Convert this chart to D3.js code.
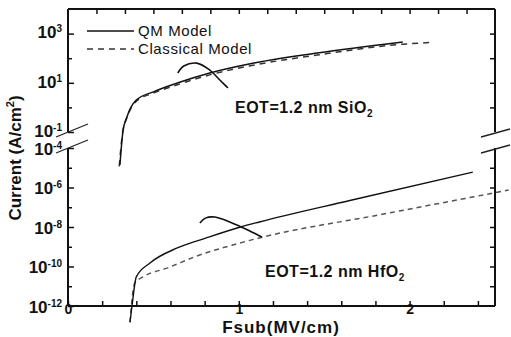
<!DOCTYPE html>
<html>
<head>
<meta charset="utf-8">
<script src="https://cdn.jsdelivr.net/npm/d3@7"></script>
<style>
  body { margin: 0; background: #fff; }
  svg { display: block; font-family: "Liberation Sans", Arial, sans-serif; }
</style>
</head>
<body>
<div id="chart"></div>
<script>
const width = 511;
const height = 337;

// [Fsub (MV/cm), current (A/cm^2)]
const qmSiO2 = [[0.304, 4.6e-3], [0.322, 0.11], [0.345, 0.41], [0.40, 2.0], [0.50, 4.3],
    [0.64, 9.8], [0.83, 25], [1.06, 58], [1.46, 162], [1.96, 457]];
const classicalSiO2 = [[0.30, 4.0e-3], [0.32, 0.10], [0.345, 0.38], [0.40, 1.8], [0.50, 3.8],
    [0.64, 8.3], [0.83, 21], [1.06, 48], [1.46, 135], [1.96, 370], [2.13, 437]];
const qmHfO2 = [[0.363, 1.5e-13], [0.374, 8.9e-13], [0.40, 3.0e-11], [0.48, 1.5e-10],
    [0.64, 8.7e-10], [0.81, 2.8e-9], [1.01, 1.0e-8], [1.12, 1.8e-8], [1.65, 2.2e-7], [2.37, 6.0e-6]];
const classicalHfO2 = [[0.363, 1.5e-13], [0.39, 1.4e-11], [0.44, 3.0e-11], [0.58, 8.3e-11],
    [0.77, 3.8e-10], [0.96, 1.2e-9], [1.12, 2.8e-9], [1.84, 4.4e-8], [2.58, 7.4e-7]];

// curved pointers next to the curves
const arrowSiO2 = [[0.643, 25], [0.678, 48], [0.754, 63], [0.83, 33], [0.889, 13], [0.936, 6.2]];
const arrowHfO2 = [[0.772, 1.6e-8], [0.807, 2.9e-8], [0.86, 3.2e-8], [0.947, 1.8e-8],
    [1.064, 6.3e-9], [1.135, 3.1e-9]];

const xLabels = [0, 1, 2];
const xBottomTicks = d3.range(0, 12).map(k => k * 0.2 + 0.2);
const xTopTicks = d3.range(1, 15).map(k => k / 6);
const topDecades = [-1, 0, 1, 2, 3];
const topLabels = [3, 1, -1];
const bottomDecades = [-12, -11, -10, -9, -8, -7, -6, -5, -4];
const bottomLabels = [-4, -6, -8, -10, -12];

const x = d3.scaleLinear().domain([0, 2.5]).range([68, 495]);
const yTop = d3.scaleLog().domain([1e-1, 1e4]).range([132, 9]);
const yBot = d3.scaleLog().domain([1e-12, 1e-4]).range([306, 148]);

const svg = d3.select("#chart")
    .append("svg")
    .attr("width", width)
    .attr("height", height);

// ticks
function supLabels(g, labeled) {
    g.selectAll(".tick").each(function(d) {
        const e = Math.round(Math.log10(d));
        const tick = d3.select(this);
        const t = tick.select("text");
        if (!labeled.includes(e)) {
            t.remove();
            tick.select("line").attr("x2", 4);
            return;
        }
        t.text("10").attr("font-size", 17).attr("font-weight", "bold").attr("fill", "#111");
        t.append("tspan").attr("dy", "-0.6em").attr("font-size", 10).text(String(e));
    });
}

const leftTop = svg.append("g")
    .attr("transform", `translate(${x(0)},0)`)
    .call(d3.axisLeft(yTop).tickValues(topDecades.map(e => 10 ** e)).tickSize(-6).tickPadding(6));
leftTop.call(supLabels, topLabels);
leftTop.selectAll(".tick text").attr("dy", "0.25em");

const leftBot = svg.append("g")
    .attr("transform", `translate(${x(0)},0)`)
    .call(d3.axisLeft(yBot).tickValues(bottomDecades.map(e => 10 ** e)).tickSize(-6).tickPadding(6));
leftBot.call(supLabels, bottomLabels);
leftBot.selectAll(".tick text").attr("dy", "0.38em");

svg.append("g")
    .attr("transform", `translate(${x(2.5)},0)`)
    .call(d3.axisRight(yTop).tickValues(topDecades.slice(1).map(e => 10 ** e)).tickSize(-5).tickFormat(""));
svg.append("g")
    .attr("transform", `translate(${x(2.5)},0)`)
    .call(d3.axisRight(yBot).tickValues(bottomDecades.slice(1, -1).map(e => 10 ** e)).tickSize(-5).tickFormat(""));

const bottomAxis = svg.append("g")
    .attr("transform", `translate(0,${yBot(1e-12)})`)
    .call(d3.axisBottom(x).tickValues(xBottomTicks.concat([0])).tickSize(-5).tickPadding(0)
        .tickFormat(d => xLabels.includes(Math.round(d * 10) / 10) ? Math.round(d) : ""));
bottomAxis.selectAll("text")
    .attr("dy", "0.6em")
    .attr("font-size", 14)
    .attr("font-weight", "bold")
    .attr("fill", "#111");

svg.append("g")
    .attr("transform", `translate(0,${yTop(1e4)})`)
    .call(d3.axisTop(x).tickValues(xTopTicks).tickSize(-5).tickFormat(""));

svg.selectAll(".domain").remove();
svg.selectAll(".tick line").attr("stroke", "#111").attr("stroke-width", 1.5);

// frame with the axis break
const frame = svg.append("g")
    .attr("stroke", "#111")
    .attr("stroke-width", 2)
    .attr("fill", "none");
const xl = x(0), xr = x(2.5);
const y0 = yTop(1e-1), y1 = yBot(1e-4);
[
    [xl, yTop(1e4), xr, yTop(1e4)],
    [xl, yBot(1e-12), xr, yBot(1e-12)],
    [xl, yTop(1e4), xl, y0], [xl, y1, xl, yBot(1e-12)],
    [xr, yTop(1e4), xr, y0], [xr, y1, xr, yBot(1e-12)]
].forEach(s => frame.append("line")
    .attr("x1", s[0]).attr("y1", s[1]).attr("x2", s[2]).attr("y2", s[3]));

const brk = svg.append("g").attr("stroke", "#222").attr("stroke-width", 1.3);
[y0, y1].forEach(y => {
    brk.append("line").attr("x1", xl - 12).attr("y1", y + 5).attr("x2", xl + 20).attr("y2", y - 8);
    brk.append("line").attr("x1", xr - 14).attr("y1", y + 5).attr("x2", xr + 15).attr("y2", y - 3);
});

// curves
const lineTop = d3.line().x(d => x(d[0])).y(d => yTop(d[1])).curve(d3.curveMonotoneX);
const lineBot = d3.line().x(d => x(d[0])).y(d => yBot(d[1])).curve(d3.curveMonotoneX);

svg.append("path").datum(classicalSiO2)
    .attr("d", lineTop).attr("fill", "none")
    .attr("stroke", "#333").attr("stroke-width", 1.5).attr("stroke-dasharray", "6,5");
svg.append("path").datum(qmSiO2)
    .attr("d", lineTop).attr("fill", "none")
    .attr("stroke", "#111").attr("stroke-width", 1.5);

svg.append("path").datum(classicalHfO2)
    .attr("d", lineBot).attr("fill", "none")
    .attr("stroke", "#555").attr("stroke-width", 1.5).attr("stroke-dasharray", "5,4");
svg.append("path").datum(qmHfO2)
    .attr("d", lineBot).attr("fill", "none")
    .attr("stroke", "#111").attr("stroke-width", 1.4);

const arcTop = d3.line().x(d => x(d[0])).y(d => yTop(d[1])).curve(d3.curveCatmullRom);
const arcBot = d3.line().x(d => x(d[0])).y(d => yBot(d[1])).curve(d3.curveCatmullRom);
svg.append("path").datum(arrowSiO2).attr("d", arcTop)
    .attr("fill", "none").attr("stroke", "#111").attr("stroke-width", 1.6);
svg.append("path").datum(arrowHfO2).attr("d", arcBot)
    .attr("fill", "none").attr("stroke", "#111").attr("stroke-width", 1.6);

// legend
const legend = svg.append("g").attr("font-size", 15).attr("fill", "#111").attr("letter-spacing", 0.6);
legend.append("line").attr("x1", 87).attr("x2", 134).attr("y1", 31).attr("y2", 31)
    .attr("stroke", "#111").attr("stroke-width", 1.5);
legend.append("text").attr("x", 138).attr("y", 36).text("QM Model");
legend.append("line").attr("x1", 87).attr("x2", 134).attr("y1", 49).attr("y2", 49)
    .attr("stroke", "#333").attr("stroke-width", 1.5).attr("stroke-dasharray", "6,5");
legend.append("text").attr("x", 138).attr("y", 54).text("Classical Model");

// annotations
function formula(xp, yp, main, sub) {
    const t = svg.append("text").attr("x", xp).attr("y", yp)
        .attr("font-size", 16).attr("font-weight", "bold").attr("letter-spacing", 0.5).attr("fill", "#111")
        .text(main);
    t.append("tspan").attr("dy", 4).attr("font-size", 10).text(sub);
}
formula(235, 113, "EOT=1.2 nm SiO", "2");
formula(265, 277, "EOT=1.2 nm HfO", "2");

// axis titles
svg.append("text")
    .attr("x", 281).attr("y", 333)
    .attr("text-anchor", "middle")
    .attr("font-size", 17).attr("font-weight", "bold").attr("letter-spacing", 1).attr("fill", "#111")
    .text("Fsub(MV/cm)");

const yTitle = svg.append("text")
    .attr("transform", "translate(21,158) rotate(-90)")
    .attr("text-anchor", "middle")
    .attr("font-size", 17).attr("font-weight", "bold").attr("fill", "#111");
yTitle.append("tspan").text("Current (A/cm");
yTitle.append("tspan").attr("dy", -7).attr("font-size", 11).text("2");
yTitle.append("tspan").attr("dy", 7).text(")");
</script>
</body>
</html>
